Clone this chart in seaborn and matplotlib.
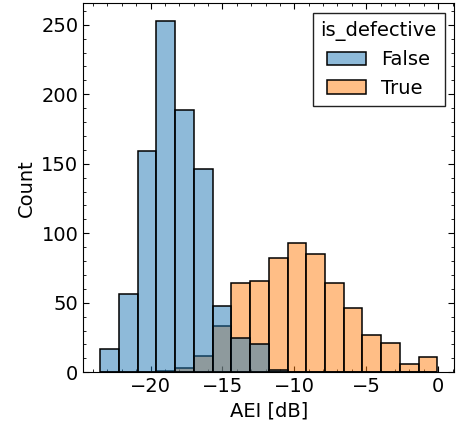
import numpy as np
import pandas as pd
import matplotlib
matplotlib.use("Agg")
import matplotlib.pyplot as plt
import seaborn as sns
from matplotlib.ticker import MultipleLocator

# ---- data ----
bin_lo = -23.5
bin_hi = -0.05
n_bins = 18
false_counts = [17, 56, 159, 253, 189, 146, 48, 25, 20, 2, 0, 0, 0, 0, 0, 0, 0, 0]
true_counts = [0, 0, 0, 1, 3, 12, 33, 64, 66, 82, 93, 85, 64, 46, 27, 21, 6, 11]
hue_levels = [False, True]
x_label = "AEI [dB]"
y_label = "Count"
legend_title = "is_defective"

edges = np.linspace(bin_lo, bin_hi, n_bins + 1)
centers = (edges[:-1] + edges[1:]) / 2

df = pd.DataFrame({
    "AEI": np.concatenate([centers, centers]),
    "is_defective": [hue_levels[0]] * n_bins + [hue_levels[1]] * n_bins,
    "weight": np.concatenate([false_counts, true_counts]).astype(float),
})

FS = 14
sns.set_style("ticks")
plt.rcParams.update({
    "font.family": ["DejaVu Sans"],
    "font.size": FS,
    "text.color": "black",
    "axes.labelcolor": "black",
    "axes.edgecolor": "black",
    "xtick.color": "black",
    "ytick.color": "black",
    "xtick.direction": "in",
    "ytick.direction": "in",
    "xtick.top": True,
    "ytick.right": True,
    "xtick.major.size": 4,
    "ytick.major.size": 4,
    "xtick.minor.size": 2,
    "ytick.minor.size": 2,
    "xtick.minor.visible": True,
    "ytick.minor.visible": True,
    "axes.linewidth": 0.8,
})

fig = plt.figure(figsize=(4.61, 4.23), dpi=100)
ax = fig.add_axes([0.1807, 0.1199, 0.8048, 0.873])

sns.histplot(data=df, x="AEI", hue="is_defective", weights="weight",
             bins=n_bins, binrange=(bin_lo, bin_hi),
             hue_order=hue_levels, palette=["C0", "C1"],
             alpha=0.5, edgecolor="black", linewidth=1.1, ax=ax)

ax.set_xlabel(x_label, fontsize=FS)
ax.set_ylabel(y_label, fontsize=FS)
ax.xaxis.set_major_locator(MultipleLocator(5))
ax.xaxis.set_minor_locator(MultipleLocator(1))
ax.yaxis.set_major_locator(MultipleLocator(50))
ax.yaxis.set_minor_locator(MultipleLocator(10))
ax.tick_params(labelsize=FS)

leg = ax.get_legend()
leg.set_title(legend_title)
leg.get_title().set_fontsize(FS)
leg.get_title().set_color("black")
for t in leg.get_texts():
    t.set_fontsize(FS)
    t.set_color("black")
frame = leg.get_frame()
frame.set_edgecolor("#222222")
frame.set_boxstyle("square", pad=0)
frame.set_alpha(1)

fig.savefig("out.png", dpi=100)
